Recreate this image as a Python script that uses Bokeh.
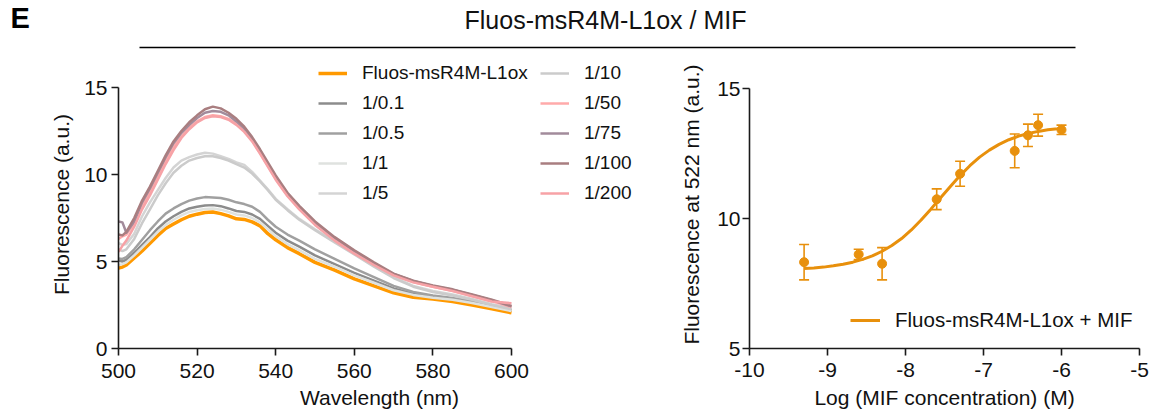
import numpy as np
from bokeh.plotting import figure
from bokeh.models import (Range1d, Legend, LegendItem, Whisker, TeeHead,
                          ColumnDataSource, Label, BoxAnnotation)
from bokeh.layouts import column, row
from bokeh.embed import file_html
from bokeh.resources import INLINE

FONT = "Liberation Sans"

# ---------------- data: spectra ----------------
wavelength = [500, 501, 502, 504, 506, 508, 510, 512, 514, 516, 518, 520, 522, 524,
              526, 528, 530, 532, 534, 536, 538, 540, 543, 546, 550, 555, 560, 565,
              570, 575, 580, 585, 590, 595, 600]

series_names = ["Fluos-msR4M-L1ox", "1/0.1", "1/0.5", "1/1", "1/5",
                "1/10", "1/50", "1/75", "1/100", "1/200"]

ctrl = [4.62, 4.68, 4.8, 5.2, 5.6, 6.05, 6.5, 6.9, 7.15, 7.4, 7.6, 7.72, 7.82, 7.84,
        7.75, 7.62, 7.45, 7.42, 7.28, 7.05, 6.6, 6.25, 5.8, 5.45, 4.95, 4.5, 4.0, 3.6,
        3.2, 2.95, 2.85, 2.7, 2.5, 2.28, 2.05]
r_0_1 = [5.05, 5.0, 5.1, 5.5, 5.95, 6.4, 6.9, 7.3, 7.6, 7.85, 8.05, 8.15, 8.22, 8.24,
         8.18, 8.05, 7.9, 7.85, 7.7, 7.45, 7.05, 6.65, 6.2, 5.85, 5.35, 4.85, 4.35, 3.9,
         3.45, 3.15, 3.0, 2.85, 2.7, 2.45, 2.2]
r_0_5 = [5.17, 5.15, 5.25, 5.7, 6.25, 6.8, 7.3, 7.75, 8.05, 8.3, 8.5, 8.62, 8.7, 8.68,
         8.65, 8.55, 8.4, 8.3, 8.15, 7.85, 7.4, 7.0, 6.55, 6.2, 5.7, 5.15, 4.6, 4.1,
         3.6, 3.25, 3.05, 2.9, 2.72, 2.48, 2.22]
r_1 = [4.8, 4.85, 4.95, 5.35, 5.8, 6.25, 6.7, 7.1, 7.4, 7.65, 7.85, 7.95, 8.02, 8.05,
       7.98, 7.85, 7.7, 7.65, 7.5, 7.25, 6.85, 6.45, 6.0, 5.65, 5.15, 4.7, 4.2, 3.78,
       3.35, 3.08, 2.92, 2.8, 2.62, 2.38, 2.15]
r_5 = [6.05, 5.95, 6.0, 6.6, 7.6, 8.4, 9.1, 9.8, 10.4, 10.8, 11.0, 11.15, 11.25, 11.2,
       11.05, 10.9, 10.7, 10.55, 10.15, 9.65, 9.15, 8.6, 8.0, 7.45, 6.85, 6.15, 5.45,
       4.75, 4.1, 3.6, 3.3, 3.1, 2.85, 2.55, 2.3]
r_10 = [5.7, 5.6, 5.7, 6.3, 7.2, 8.0, 8.8, 9.5, 10.1, 10.5, 10.8, 10.95, 11.05, 11.05,
        10.95, 10.8, 10.6, 10.4, 10.05, 9.6, 9.1, 8.55, 7.95, 7.4, 6.8, 6.1, 5.4, 4.7,
        4.05, 3.55, 3.25, 3.05, 2.8, 2.5, 2.25]
r_50 = [6.3, 6.45, 6.55, 7.2, 8.2, 9.0, 9.9, 10.8, 11.6, 12.2, 12.7, 13.05, 13.3, 13.4,
        13.35, 13.2, 12.9, 12.5, 11.95, 11.25, 10.5, 9.75, 8.8, 8.05, 7.15, 6.25, 5.5,
        4.82, 4.22, 3.82, 3.55, 3.32, 3.02, 2.72, 2.38]
r_75 = [7.3, 7.25, 6.65, 7.3, 8.4, 9.2, 10.1, 11.0, 11.8, 12.4, 12.85, 13.25, 13.55,
        13.65, 13.6, 13.4, 13.05, 12.65, 12.05, 11.35, 10.6, 9.85, 8.9, 8.15, 7.25, 6.35,
        5.6, 4.9, 4.28, 3.88, 3.6, 3.38, 3.08, 2.78, 2.42]
r_100 = [6.55, 6.5, 6.7, 7.5, 8.5, 9.3, 10.2, 11.1, 11.9, 12.5, 13.0, 13.4, 13.75, 13.9,
         13.8, 13.55, 13.2, 12.75, 12.15, 11.45, 10.7, 9.95, 8.95, 8.2, 7.3, 6.4, 5.65,
         4.95, 4.3, 3.9, 3.62, 3.4, 3.1, 2.8, 2.45]
r_200 = [5.55, 5.9, 6.2, 7.0, 8.0, 8.8, 9.7, 10.6, 11.4, 12.1, 12.6, 13.0, 13.25, 13.35,
         13.3, 13.15, 12.85, 12.45, 11.9, 11.2, 10.45, 9.7, 8.75, 8.0, 7.1, 6.2, 5.45,
         4.8, 4.2, 3.8, 3.55, 3.3, 3.0, 2.7, 2.6]

series_values = [ctrl, r_0_1, r_0_5, r_1, r_5, r_10, r_50, r_75, r_100, r_200]
series_colors = ["#ff9900", "#8c8c8c", "#a0a0a0", "#dfe2df", "#d4d4d4",
                 "#cbcbcb", "#ffaaaa", "#a28b9b", "#a97e80", "#f7a2a6"]
series_widths = [3.5, 2.5, 2.5, 2.5, 2.5, 2.5, 2.5, 2.5, 2.5, 2.5]

wl_ticks = [500, 520, 540, 560, 580, 600]
fl_ticks = [0, 5, 10, 15]

# ---------------- data: dose response ----------------
log_conc = [-9.3, -8.6, -8.3, -7.6, -7.3, -6.6, -6.43, -6.3, -6.0]
fl_522 = [8.32, 8.62, 8.26, 10.74, 11.72, 12.6, 13.2, 13.59, 13.41]
fl_522_err = [0.68, 0.2, 0.62, 0.4, 0.48, 0.65, 0.43, 0.42, 0.18]

fit_x = [-9.3, -9.175, -9.05, -8.925, -8.8, -8.675, -8.55, -8.425, -8.3, -8.175,
         -8.05, -7.925, -7.8, -7.675, -7.55, -7.425, -7.3, -7.175, -7.05, -6.925,
         -6.8, -6.675, -6.55, -6.425, -6.3, -6.175, -6.05, -6.0]
fit_y = [8.08, 8.10, 8.13, 8.18, 8.24, 8.32, 8.43, 8.56, 8.74, 8.96, 9.23, 9.56,
         9.94, 10.36, 10.80, 11.23, 11.65, 12.03, 12.36, 12.63, 12.85, 13.03, 13.17,
         13.27, 13.35, 13.41, 13.45, 13.47]

log_ticks = [-10, -9, -8, -7, -6, -5]
fl2_ticks = [5, 10, 15]

AX = "#1a1a1a"
DOSE = "#e8900c"


def style_axes(p):
    for ax in p.axis:
        ax.axis_line_color = AX
        ax.axis_line_width = 1.6
        ax.major_tick_line_color = AX
        ax.major_tick_line_width = 1.6
        ax.major_tick_out = 7
        ax.major_tick_in = 0
        ax.minor_tick_line_color = None
        ax.major_label_text_font = FONT
        ax.major_label_text_font_size = "21px"
        ax.major_label_text_color = "#111111"
        ax.axis_label_text_font = FONT
        ax.axis_label_text_font_size = "21px"
        ax.axis_label_text_font_style = "normal"
        ax.axis_label_text_color = "#111111"
    p.grid.visible = False
    p.outline_line_color = None
    p.background_fill_color = None
    p.border_fill_color = None


# ---------------- header ----------------
hdr = figure(width=1157, height=56, x_range=Range1d(0, 1157), y_range=Range1d(0, 56),
             output_backend="svg", toolbar_location=None, min_border=0)
hdr.axis.visible = False
hdr.grid.visible = False
hdr.outline_line_color = None
hdr.add_layout(Label(x=10, y=22.5, text="E", text_font=FONT, text_font_size="29px",
                     text_font_style="bold", text_color="#000000"))
hdr.add_layout(Label(x=605, y=22.5, text="Fluos-msR4M-L1ox / MIF", text_font=FONT,
                     text_font_size="25px", text_align="center", text_color="#111111"))
hdr.add_layout(BoxAnnotation(left=139, right=1075, bottom=8.2, top=9.8,
                             fill_color="#000000", fill_alpha=1, line_color=None))

TOP_B = 4
BOT_B = 69
FIG_H = 361

# ---------------- left: spectra ----------------
p1 = figure(width=640, height=FIG_H,
            x_range=Range1d(500, 500 + 522 / 3.93), y_range=Range1d(0, 288 / 17.4),
            output_backend="svg", toolbar_location=None,
            min_border_left=118, min_border_right=0, min_border_top=TOP_B,
            min_border_bottom=BOT_B)
renderers = []
for vals, col, lw in zip(series_values, series_colors, series_widths):
    r = p1.line(wavelength, vals, line_color=col, line_width=lw, line_join="round")
    renderers.append(r)

p1.xaxis.bounds = (500, 600)
p1.yaxis.bounds = (0, 15)
p1.xaxis.ticker = wl_ticks
p1.yaxis.ticker = fl_ticks
p1.xaxis.axis_label = "Wavelength (nm)"
p1.yaxis.axis_label = "Fluorescence (a.u.)"
style_axes(p1)
p1.yaxis.major_label_standoff = 4
p1.yaxis.axis_label_standoff = 8
p1.xaxis.major_label_standoff = 8
p1.xaxis.axis_label_standoff = 5


def make_legend(items, loc, size):
    lg = Legend(items=items, location=loc)
    lg.label_text_font = FONT
    lg.label_text_font_size = size
    lg.label_text_color = "#111111"
    lg.glyph_width = 29
    lg.glyph_height = 22
    lg.label_height = 22
    lg.label_standoff = 15
    lg.spacing = 8
    lg.padding = 0
    lg.margin = 0
    lg.border_line_color = None
    lg.background_fill_alpha = 0
    return lg


items1 = [LegendItem(label=series_names[i], renderers=[renderers[i]]) for i in range(5)]
items2 = [LegendItem(label=series_names[i], renderers=[renderers[i]]) for i in range(5, 10)]
p1.add_layout(make_legend(items1, (200, 144), "19px"), "center")
p1.add_layout(make_legend(items2, (422, 144), "19px"), "center")

# ---------------- right: dose response ----------------
p2 = figure(width=517, height=FIG_H, x_range=Range1d(-10, -5),
            y_range=Range1d(5, 5 + 288 / 26),
            output_backend="svg", toolbar_location=None,
            min_border_left=109, min_border_right=18, min_border_top=TOP_B,
            min_border_bottom=BOT_B)
upper = [y + e for y, e in zip(fl_522, fl_522_err)]
lower = [y - e for y, e in zip(fl_522, fl_522_err)]
src = ColumnDataSource(dict(x=log_conc, y=fl_522, upper=upper, lower=lower))
p2.add_layout(Whisker(source=src, base="x", upper="upper", lower="lower",
                      line_color=DOSE, line_width=1.6,
                      upper_head=TeeHead(size=10, line_color=DOSE, line_width=1.6),
                      lower_head=TeeHead(size=10, line_color=DOSE, line_width=1.6)))
fit_r = p2.line(fit_x, fit_y, line_color=DOSE, line_width=3, line_join="round")
p2.scatter("x", "y", source=src, size=9, fill_color=DOSE, line_color=DOSE)

p2.xaxis.ticker = log_ticks
p2.xaxis.major_label_overrides = {t: str(t) for t in log_ticks}
p2.yaxis.bounds = (5, 15)
p2.yaxis.ticker = fl2_ticks
p2.xaxis.axis_label = "Log (MIF concentration) (M)"
p2.yaxis.axis_label = "Fluorescence at 522 nm (a.u.)"
style_axes(p2)
p2.yaxis.major_label_standoff = 2
p2.yaxis.axis_label_standoff = 11
p2.xaxis.major_label_standoff = 7
p2.xaxis.axis_label_standoff = 6

lg2 = make_legend([LegendItem(label="Fluos-msR4M-L1ox + MIF", renderers=[fit_r])],
                  (101, 16), "20.5px")
lg2.glyph_width = 30
p2.add_layout(lg2, "center")

layout = column(hdr, row(p1, p2))
open("out.html", "w").write(file_html(layout, INLINE))
